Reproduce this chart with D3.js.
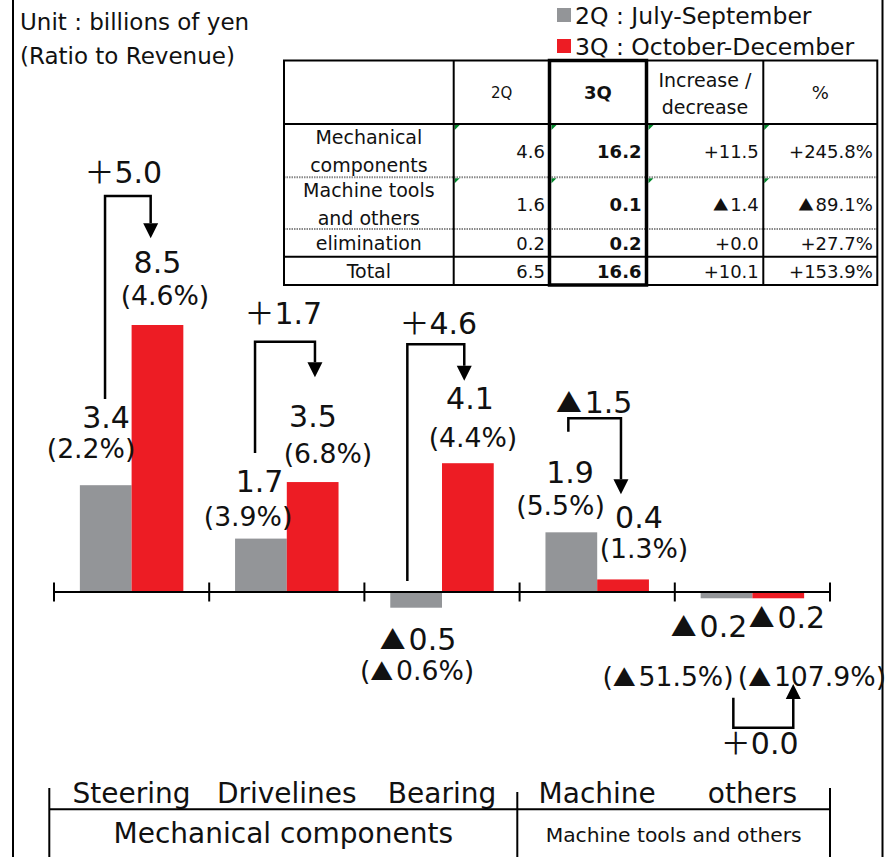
<!DOCTYPE html>
<html><head><meta charset="utf-8">
<script src="https://cdn.jsdelivr.net/npm/d3@7"></script>
<style>body{margin:0;background:#fff} svg{display:block}</style>
</head><body><svg id="c" width="892" height="857"></svg>
<script>
// ---------- data ----------
const categories = ["Steering", "Drivelines", "Bearing", "Machine", "others"];
const seriesNames = ["2Q", "3Q"];
const legendLabels = ["2Q : July-September", "3Q : October-December"];
const values2Q = [3.4, 1.7, -0.5, 1.9, -0.2];
const values3Q = [8.5, 3.5, 4.1, 0.4, -0.2];
const ratio2Q = [2.2, 3.9, -0.6, 5.5, -51.5];
const ratio3Q = [4.6, 6.8, 4.4, 1.3, -107.9];
const changes = [5.0, 1.7, 4.6, -1.5, 0.0];
const segmentNames = ["Mechanical components", "Machine tools and others"];
const segmentSpans = [3, 2];
const unitLines = ["Unit : billions of yen", "(Ratio to Revenue)"];
const tableHeader = ["", "2Q", "3Q", "Increase /|decrease", "%"];
const tableRows = ["Mechanical|components", "Machine tools|and others", "elimination", "Total"];
const table2Q = [4.6, 1.6, 0.2, 6.5];
const table3Q = [16.2, 0.1, 0.2, 16.6];
const tableDiff = [11.5, -1.4, 0.0, 10.1];
const tablePct = [245.8, -89.1, 27.7, 153.9];

// ---------- style / layout ----------
const FONT = "'DejaVu Sans', Verdana, sans-serif";
const CJK = "'Noto Sans CJK JP', 'Noto Sans CJK SC', sans-serif";
const colors = {"2Q": "#939598", "3Q": "#ED1C24"};
const ink = "#111";

const fmtVal = v => (v < 0 ? "▲" : "") + Math.abs(v).toFixed(1);
const fmtChg = v => (v < 0 ? "▲" : "＋") + Math.abs(v).toFixed(1);
const fmtPct = v => "(" + (v < 0 ? "▲" : "") + Math.abs(v).toFixed(1) + "%)";
const fmtTDiff = v => (v < 0 ? "▲" : "+") + Math.abs(v).toFixed(1);
const fmtTPct = v => (v < 0 ? "▲" : "+") + Math.abs(v).toFixed(1) + "%";

function rich(textSel, str, fs) {
  let pendingDx = 0;
  str.split(/([▲＋])/).filter(s => s.length).forEach(p => {
    const t = textSel.append("tspan").text(p);
    if (pendingDx) { t.attr("dx", pendingDx); pendingDx = 0; }
    if (p === "▲") {
      t.attr("font-family", CJK).attr("font-size", fs * 0.86);
      pendingDx = fs * 0.1;
    } else if (p === "＋") {
      t.attr("font-family", CJK);
    }
  });
  return textSel;
}

const svg = d3.select("#c");
svg.append("rect").attr("width", 892).attr("height", 857).attr("fill", "#fff");

// page borders
svg.append("line").attr("x1", 13).attr("x2", 13).attr("y1", 0).attr("y2", 857).attr("stroke", "#000").attr("stroke-width", 2);
svg.append("line").attr("x1", 882.5).attr("x2", 882.5).attr("y1", 0).attr("y2", 857).attr("stroke", "#000").attr("stroke-width", 2);

// unit text
unitLines.forEach((t, i) => {
  svg.append("text").attr("x", 20).attr("y", [29.5, 64][i]).attr("font-family", FONT)
    .attr("font-size", 23).attr("fill", ink).text(t);
});

// legend
seriesNames.forEach((s, i) => {
  const ly = [8, 39][i];
  svg.append("rect").attr("x", 557).attr("y", ly).attr("width", 14).attr("height", 14).attr("fill", colors[s]);
  svg.append("text").attr("x", 575).attr("y", ly + 16).attr("font-family", FONT)
    .attr("font-size", 23.5).attr("fill", ink).text(legendLabels[i]);
});

// ---------- scales ----------
const x = d3.scaleBand().domain(categories).range([54, 830]).padding(0);
const xs = d3.scaleBand().domain(seriesNames).range([0, x.bandwidth()]).paddingInner(0).paddingOuter(0.5);
const y = d3.scaleLinear().domain([0, 8.5]).range([592, 325]);
const seriesValues = {"2Q": values2Q, "3Q": values3Q};
const seriesRatios = {"2Q": ratio2Q, "3Q": ratio3Q};

// bars
seriesNames.forEach(s => {
  svg.append("g").selectAll("rect").data(categories).join("rect")
    .attr("x", c => x(c) + xs(s))
    .attr("width", xs.bandwidth())
    .attr("y", (c, i) => Math.min(y(seriesValues[s][i]), y(0)))
    .attr("height", (c, i) => Math.abs(y(seriesValues[s][i]) - y(0)))
    .attr("fill", colors[s]);
});

// axis
const y0 = y(0);
svg.append("line").attr("x1", x.range()[0]).attr("x2", x.range()[1]).attr("y1", y0).attr("y2", y0)
  .attr("stroke", "#000").attr("stroke-width", 2);
const bounds = categories.map(c => x(c)).concat([x.range()[1]]);
svg.append("g").selectAll("line").data(bounds).join("line")
  .attr("x1", d => d).attr("x2", d => d).attr("y1", y0 - 9.5).attr("y2", y0 + 9.5)
  .attr("stroke", "#000").attr("stroke-width", 2);

// value & ratio labels: [dx value, dy value, dx pct, dy pct] relative to bar center / bar end
const labelLayout = {
  "2Q": [[0.3, -56.9, -14.7, -26.9], [-1.4, -46.3, -12.9, -12.9], [1.9, 42.3, 0.9, 72.3], [-1.3, -49, -10.8, -17.3], [-17.5, 38.4, -58.5, 87.7]],
  "3Q": [[0, -52, 7.5, -20], [0.3, -54.8, 15.3, -18.8], [2.1, -53.9, 5.1, -16.5], [15.9, -51.1, 20.9, -21.1], [8.7, 30, 33.7, 87.7]]
};
seriesNames.forEach(s => {
  categories.forEach((c, i) => {
    const v = seriesValues[s][i];
    const cx = x(c) + xs(s) + xs.bandwidth() / 2;
    const ey = y(v);
    const L = labelLayout[s][i];
    rich(svg.append("text").attr("x", cx + L[0]).attr("y", ey + L[1]).attr("text-anchor", "middle")
      .attr("font-family", FONT).attr("font-size", 30).attr("fill", ink), fmtVal(v), 30);
    rich(svg.append("text").attr("x", cx + L[2]).attr("y", ey + L[3]).attr("text-anchor", "middle")
      .attr("font-family", FONT).attr("font-size", 26.7).attr("fill", ink), fmtPct(seriesRatios[s][i]), 26.7);
  });
});

// change brackets
const bracketLayout = [
  {x1: -0.7, x2: -6.8, yStart: 399, yTurn: 196, yTip: 238.3, ldx: -4.6, ly: 183.3},
  {x1: -5.9, x2: 2.3, yStart: 453, yTurn: 341.7, yTip: 377.3, ldx: -1.7, ly: 324},
  {x1: -8.8, x2: -3.6, yStart: 581, yTurn: 344.3, yTip: 380.7, ldx: 2.5, ly: 334},
  {x1: -3, x2: -2.1, yStart: 431.7, yTurn: 418.3, yTip: 494.3, ldx: -0.5, ly: 413},
  {x1: 6.8, x2: 15, yStart: 697.7, yTurn: 727.7, yTip: 684, ldx: -3.6, ly: 754}
];
categories.forEach((c, i) => {
  const B = bracketLayout[i];
  const ax = x(c) + xs("2Q") + xs.bandwidth() / 2 + B.x1;
  const bx = x(c) + xs("3Q") + xs.bandwidth() / 2 + B.x2;
  const dir = B.yTip > B.yTurn ? 1 : -1;
  const base = B.yTip - dir * 15;
  svg.append("path").attr("d", `M${ax},${B.yStart}V${B.yTurn}H${bx}V${base}`)
    .attr("fill", "none").attr("stroke", "#000").attr("stroke-width", 2.5);
  svg.append("path").attr("d", `M${bx - 7.5},${base}L${bx + 7.5},${base}L${bx},${B.yTip}Z`).attr("fill", "#000");
  rich(svg.append("text").attr("x", (ax + bx) / 2 + B.ldx).attr("y", B.ly).attr("text-anchor", "middle")
    .attr("font-family", FONT).attr("font-size", 30).attr("fill", ink), fmtChg(changes[i]), 30);
});

// category labels
svg.append("g").selectAll("text").data(categories).join("text")
  .attr("x", c => x(c) + x.bandwidth() / 2).attr("y", 803.3).attr("text-anchor", "middle")
  .attr("font-family", FONT).attr("font-size", 28).attr("fill", ink).text(c => c);

// segment box
const segEdges = [49.3, 517.3, 830];
svg.append("line").attr("x1", segEdges[0]).attr("x2", segEdges[2]).attr("y1", 809.3).attr("y2", 809.3).attr("stroke", "#000").attr("stroke-width", 2);
[[segEdges[0], 788], [segEdges[1], 792], [segEdges[2], 788]].forEach(([lx, ly]) => {
  svg.append("line").attr("x1", lx).attr("x2", lx).attr("y1", ly).attr("y2", 857).attr("stroke", "#000").attr("stroke-width", 2);
});
segmentNames.forEach((n, i) => {
  svg.append("text").attr("x", (segEdges[i] + segEdges[i + 1]) / 2).attr("y", [843, 842][i])
    .attr("text-anchor", "middle").attr("font-family", FONT).attr("font-size", [28, 20.3][i])
    .attr("fill", ink).text(n);
});

// ---------- table ----------
const colX = [284, 453.7, 549.5, 646.5, 763.3, 877.3];
const rowY = [60.5, 124, 177.3, 229, 256.7, 285];
const tg = svg.append("g");
// green indicators
[0, 1].forEach(r => {
  [1, 2, 3, 4].forEach(ci => {
    const gx = colX[ci] + (ci === 2 || ci === 3 ? 2 : 1), gy = rowY[r + 1] + 1;
    tg.append("path").attr("d", `M${gx},${gy}H${gx + 5}L${gx},${gy + 5}Z`).attr("fill", "#00882a");
  });
});
// horizontal lines
[[rowY[1], "solid"], [rowY[2], "dot"], [rowY[3], "dot"], [rowY[4], "solid"]].forEach(([ly, t]) => {
  const l = tg.append("line").attr("x1", colX[0]).attr("x2", colX[5]).attr("y1", ly).attr("y2", ly);
  if (t === "solid") l.attr("stroke", "#000").attr("stroke-width", 2);
  else l.attr("stroke", "#888").attr("stroke-width", 2).attr("stroke-dasharray", "1.5,1");
});
[colX[1], colX[4]].forEach(lx => {
  tg.append("line").attr("x1", lx).attr("x2", lx).attr("y1", rowY[0]).attr("y2", rowY[5]).attr("stroke", "#000").attr("stroke-width", 2);
});
tg.append("rect").attr("x", colX[0]).attr("y", rowY[0]).attr("width", colX[5] - colX[0]).attr("height", rowY[5] - rowY[0])
  .attr("fill", "none").attr("stroke", "#000").attr("stroke-width", 2);
tg.append("rect").attr("x", colX[2]).attr("y", rowY[0]).attr("width", colX[3] - colX[2]).attr("height", rowY[5] - rowY[0])
  .attr("fill", "none").attr("stroke", "#000").attr("stroke-width", 3.5);

// header
const hc = (rowY[0] + rowY[1]) / 2;
tableHeader.forEach((h, ci) => {
  if (!h) return;
  const cx = (colX[ci] + colX[ci + 1]) / 2;
  const lines = h.split("|");
  const fs = [0, 15, 18, 19, 18][ci];
  lines.forEach((ln, k) => {
    const by = lines.length === 1 ? hc + fs * 0.37 : hc + 8.3 + (k === 0 ? -13.8 : 13.8);
    tg.append("text").attr("x", cx).attr("y", by).attr("text-anchor", "middle")
      .attr("font-family", FONT).attr("font-size", fs).attr("font-weight", ci === 2 ? "bold" : "normal")
      .attr("fill", ink).text(ln);
  });
});
// rows
tableRows.forEach((r, ri) => {
  const rc = (rowY[ri + 1] + rowY[ri + 2]) / 2;
  const lines = r.split("|");
  lines.forEach((ln, k) => {
    const by = lines.length === 1 ? rc + 7.5 : rc + 7.6 + (k === 0 ? -13.8 : 13.8);
    tg.append("text").attr("x", (colX[0] + colX[1]) / 2).attr("y", by).attr("text-anchor", "middle")
      .attr("font-family", FONT).attr("font-size", 19).attr("fill", ink).text(ln);
  });
  const cells = [table2Q[ri].toFixed(1), table3Q[ri].toFixed(1), fmtTDiff(tableDiff[ri]), fmtTPct(tablePct[ri])];
  cells.forEach((t, k) => {
    rich(tg.append("text").attr("x", colX[k + 2] - (k === 0 ? 4.5 : k === 1 ? 5 : 4.5)).attr("y", rc + 7.5)
      .attr("text-anchor", "end").attr("font-family", FONT).attr("font-size", 18)
      .attr("font-weight", k === 1 ? "bold" : "normal").attr("fill", ink), t, 18);
  });
});
</script></body></html>
